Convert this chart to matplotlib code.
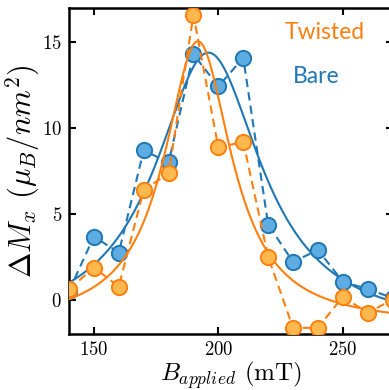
import numpy as np
import matplotlib
matplotlib.use('Agg')
import matplotlib.pyplot as plt

plt.rcParams['font.family'] = 'cmr10'
plt.rcParams['mathtext.fontset'] = 'cm'
plt.rcParams['axes.formatter.use_mathtext'] = True

# field values (mT)
field = [140, 150, 160, 170, 180, 190, 200, 210, 220, 230, 240, 250, 260, 270]

# Delta M_x
bare = [0.5, 3.68, 2.74, 8.7, 8.0, 14.3, 12.43, 14.1, 4.38, 2.2, 2.9, 1.05, 0.62, 0.1]
twisted = [0.6, 1.87, 0.76, 6.4, 7.36, 16.6, 8.87, 9.2, 2.5, -1.64, -1.64, 0.17, -0.76, 0.0]

# lorentzian fit parameters (x0, amplitude, width, offset)
bare_fit = (196.0, 16.3, 26.0, -1.9)
twisted_fit = (191.8, 16.55, 16.5, -1.49)


def lorentz(x, x0, a, g, c):
    return c + a / (1 + ((x - x0) / g) ** 2)


blue = '#1f77b4'
blue_fill = '#5dade2'
orange = '#ff7f0e'
orange_fill = '#ffb84d'

fig = plt.figure(figsize=(3.89, 3.90), dpi=100)
ax = fig.add_axes([69 / 389, 1 - 334 / 390, (392.6 - 69) / 389, (334 - 8) / 390])

xf = np.linspace(140, 272, 400)

ax.plot(field, bare, '--', color=blue, lw=1.5, dashes=(4, 2.5), zorder=2)
ax.plot(xf, lorentz(xf, *bare_fit), '-', color=blue, lw=1.5, zorder=2)
ax.plot(field, bare, 'o', ms=11, mfc=blue_fill, mec=blue, mew=1.4, zorder=3)

ax.plot(field, twisted, '--', color=orange, lw=1.5, dashes=(4, 2.5), zorder=4)
ax.plot(xf, lorentz(xf, *twisted_fit), '-', color=orange, lw=1.5, zorder=4)
ax.plot(field, twisted, 'o', ms=11, mfc=orange_fill, mec=orange, mew=1.4, zorder=5)

ax.set_xlim(140, 270)
ax.set_ylim(-2, 17)
ax.set_xticks([150, 200, 250])
ax.set_yticks([0, 5, 10, 15])

ax.tick_params(direction='in', top=True, right=True, length=5, width=1.5,
               labelsize=13.5, pad=5)
for s in ax.spines.values():
    s.set_linewidth(1.8)

ax.set_xlabel(r'$B_{applied}$ (mT)', fontsize=18, labelpad=0)
ax.set_ylabel(r'$\Delta M_x$ $(\mu_B/nm^2)$', fontsize=22, labelpad=0)

ax.text(0.79, 0.925, 'Twisted', color=orange, fontsize=16.5, family='Lato',
        ha='center', va='center', transform=ax.transAxes)
ax.text(0.765, 0.79, 'Bare', color=blue, fontsize=16.5, family='Lato',
        ha='center', va='center', transform=ax.transAxes)

fig.savefig('out.png', dpi=100)
